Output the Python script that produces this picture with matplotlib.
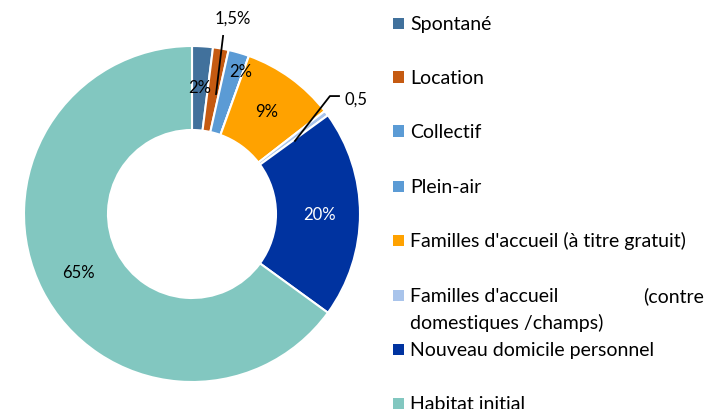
import matplotlib.pyplot as plt
import numpy as np

#------------------------------------------------------------------------------
# Data
labels = ["Spontané", "Location", "Collectif", "Plein-air",
          "Familles d'accueil (à titre gratuit)",
          "Familles d'accueil (contre domestiques /champs)",
          "Nouveau domicile personnel", "Habitat initial"]
values = [2, 1.5, 2, 0, 9, 0.5, 20, 65]
value_text = ["2%", "1,5%", "2%", "", "9%", "0,5", "20%", "65%"]
colors = ["#41719c", "#c55a11", "#5b9bd5", "#5b9bd5", "#ffa200",
          "#a9c4eb", "#0033a0", "#82c7c0"]

plt.rcParams['font.family'] = ['Lato', 'DejaVu Sans']
W, H = 708, 410

#------------------------------------------------------------------------------
def main():
    fig = plt.figure(figsize=(W / 100, H / 100), dpi=100)
    cx, cy, R = 192, 215, 168
    ax = fig.add_axes([(cx - R) / W, (H - cy - R) / H, 2 * R / W, 2 * R / H])
    ax.pie(values, colors=colors, startangle=90, counterclock=False,
           radius=1, wedgeprops=dict(width=0.5, edgecolor='white', linewidth=1.5))
    ax.set_xlim(-1, 1)
    ax.set_ylim(-1, 1)
    ax.set_aspect('equal')
    ax.axis('off')

    # value labels
    cum = np.cumsum([0] + values[:-1])
    for i, (v, t) in enumerate(zip(values, value_text)):
        if not t:
            continue
        ang = np.deg2rad(90 - (cum[i] + v / 2) * 3.6)
        r = 0.76
        x, y = r * np.cos(ang), r * np.sin(ang)
        col = 'white' if i == 6 else 'black'
        if i == 1:
            # leader line
            ax.plot([0.143, 0.185], [0.714, 1.06], color='black', lw=1.3,
                    clip_on=False)
            x, y = 0.24, 1.17
        elif i == 2:
            x, y = 0.29, 0.85
        elif i == 5:
            ax.plot([0.613, 0.821, 0.875], [0.435, 0.702, 0.702],
                    color='black', lw=1.3, clip_on=False)
            x, y = 0.976, 0.685
        ax.text(x, y, t, ha='center', va='center', fontsize=12, color=col,
                clip_on=False)

    # legend
    ys = [24, 78, 132, 187, 241, 296, 350, 404]
    fs = 14
    for i, lab in enumerate(labels):
        y = ys[i]
        fig.patches.append(plt.Rectangle((393 / W, (H - y - 5.5) / H), 11 / W, 11 / H,
                                         transform=fig.transFigure,
                                         facecolor=colors[i], edgecolor='none'))
        base = (H - y - 6) / H
        if i == 5:
            fig.text(410 / W, base, "Familles d'accueil", va='baseline', fontsize=fs)
            fig.text(704 / W, base, "(contre", va='baseline', ha='right', fontsize=fs)
            fig.text(410 / W, base - 27 / H, "domestiques /champs)", va='baseline', fontsize=fs)
        else:
            fig.text(410 / W, base, lab, va='baseline', fontsize=fs)

    fig.savefig("out.png", dpi=100)

if __name__ == "__main__":
    main()
